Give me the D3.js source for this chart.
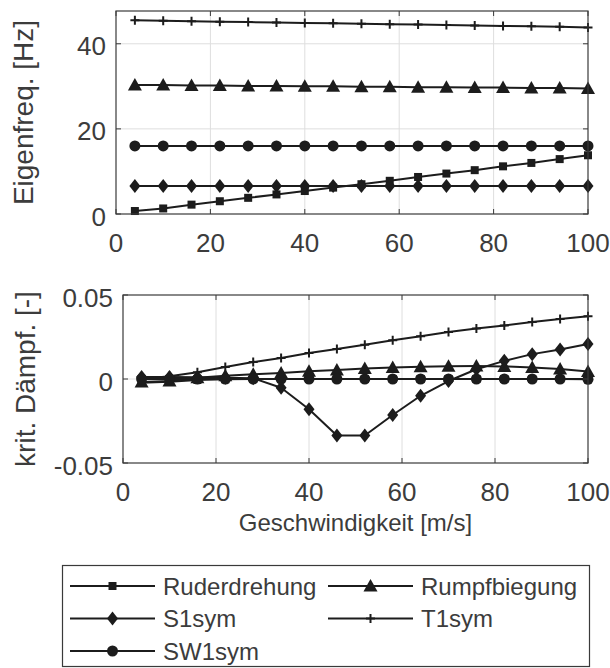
<!DOCTYPE html>
<html>
<head>
<meta charset="utf-8">
<script src="https://cdn.jsdelivr.net/npm/d3@7"></script>
<style>
  html, body { margin: 0; padding: 0; background: #fff; }
  svg { display: block; font-family: "Liberation Sans", Arial, Helvetica, sans-serif; }
</style>
</head>
<body>
<svg id="chart" width="610" height="668"></svg>
<script>
// Flight speed [m/s] at which each mode was evaluated
const speeds = [4, 10, 16, 22, 28, 34, 40, 46, 52, 58, 64, 70, 76, 82, 88, 94, 100];

// Eigenfrequencies [Hz]
const freqRuderdrehung = [0.7, 1.3, 2.2, 3.0, 3.8, 4.6, 5.4, 6.2, 7.0, 7.8, 8.7, 9.5, 10.3, 11.2, 12.0, 12.9, 13.8];
const freqRumpfbiegung = [30.3, 30.3, 30.2, 30.2, 30.1, 30.1, 30.0, 30.0, 29.9, 29.9, 29.8, 29.8, 29.7, 29.7, 29.6, 29.6, 29.5];
const freqS1sym = [6.6, 6.6, 6.6, 6.6, 6.6, 6.6, 6.6, 6.6, 6.6, 6.6, 6.6, 6.6, 6.6, 6.6, 6.6, 6.6, 6.6];
const freqT1sym = [45.5, 45.4, 45.3, 45.2, 45.1, 45.0, 44.9, 44.8, 44.7, 44.6, 44.5, 44.4, 44.3, 44.2, 44.1, 44.0, 43.8];
const freqSW1sym = [16.0, 16.0, 16.0, 16.0, 16.0, 16.0, 16.0, 16.0, 16.0, 16.0, 16.0, 16.0, 16.0, 16.0, 16.0, 16.0, 16.0];

// Critical damping ratios [-]
const dampRuderdrehung = [-0.0022, -0.0016, -0.0006, -0.0002, 0.0, 0.0, 0.0, 0.0, 0.0, 0.0, 0.0, 0.0, 0.0, 0.0, 0.0, 0.0, 0.0];
const dampRumpfbiegung = [-0.0018, -0.0012, 0.0008, 0.0020, 0.0028, 0.0036, 0.0046, 0.0054, 0.0062, 0.0068, 0.0073, 0.0076, 0.0077, 0.0075, 0.0069, 0.0060, 0.0044];
const dampS1sym = [0.0012, 0.0012, 0.0010, 0.0008, 0.0005, -0.0052, -0.0180, -0.0336, -0.0336, -0.0214, -0.0100, -0.0012, 0.0058, 0.0108, 0.0148, 0.0176, 0.0208];
const dampT1sym = [0.0, 0.0016, 0.0040, 0.0071, 0.0101, 0.0125, 0.0155, 0.0179, 0.0204, 0.0230, 0.0254, 0.0280, 0.0300, 0.0319, 0.0339, 0.0357, 0.0373];
const dampSW1sym = [0.0, 0.0, 0.0, 0.0, 0.0, 0.0, 0.0, 0.0, 0.0, 0.0, 0.0, 0.0, 0.0, 0.0, 0.0, 0.0, -0.0002];

// Mode names (legend order) and their marker shapes
const modeNames = ["Ruderdrehung", "Rumpfbiegung", "S1sym", "T1sym", "SW1sym"];
const modeMarkers = ["square", "triangle", "diamond", "plus", "circle"];

// Axis ticks
const xTicks = [0, 20, 40, 60, 80, 100];
const freqTicks = [0, 20, 40];
const dampTicks = [-0.05, 0, 0.05];
const dampTickLabels = ["-0.05", "0", "0.05"];

const freqSeries = [freqRuderdrehung, freqRumpfbiegung, freqS1sym, freqT1sym, freqSW1sym];
const dampSeries = [dampRuderdrehung, dampRumpfbiegung, dampS1sym, dampT1sym, dampSW1sym];

const INK = "#1c1c1c";
const AXIS = "#3a3a3a";
const TEXT = "#3c3c3c";
const GRID = "#dedede";
const TICK_FONT = 26;
const YLABEL_FONT = 28;
const XLABEL_FONT = 24;
const LEGEND_FONT = 24;

const svg = d3.select("#chart");

function drawMarker(g, shape, cx, cy) {
  if (shape === "square") {
    g.append("rect").attr("x", cx - 4).attr("y", cy - 4).attr("width", 8).attr("height", 8).attr("fill", INK);
  } else if (shape === "triangle") {
    g.append("path").attr("d", `M${cx},${cy - 7}L${cx + 7},${cy + 5.5}L${cx - 7},${cy + 5.5}Z`).attr("fill", INK);
  } else if (shape === "diamond") {
    g.append("path").attr("d", `M${cx},${cy - 7}L${cx + 5.5},${cy}L${cx},${cy + 7}L${cx - 5.5},${cy}Z`).attr("fill", INK);
  } else if (shape === "circle") {
    g.append("circle").attr("cx", cx).attr("cy", cy).attr("r", 5.5).attr("fill", INK);
  } else if (shape === "plus") {
    g.append("path").attr("d", `M${cx - 4.5},${cy}H${cx + 4.5}M${cx},${cy - 4.5}V${cy + 4.5}`)
      .attr("stroke", INK).attr("stroke-width", 2).attr("fill", "none");
  }
}

function panel(opts) {
  const { left, right, top, bottom, yDomain, yTicks, yTickLabels, series, yLabel, yLabelX } = opts;
  const x = d3.scaleLinear().domain([0, 100]).range([left, right]);
  const y = d3.scaleLinear().domain(yDomain).range([bottom, top]);
  const g = svg.append("g");

  // grid
  g.append("g").selectAll("line").data(xTicks.filter(t => t > 0 && t < 100)).join("line")
    .attr("x1", d => x(d)).attr("x2", d => x(d)).attr("y1", top).attr("y2", bottom)
    .attr("stroke", GRID).attr("stroke-width", 1);
  g.append("g").selectAll("line").data(yTicks.filter(t => y(t) > top + 1 && y(t) < bottom - 1)).join("line")
    .attr("x1", left).attr("x2", right).attr("y1", d => y(d)).attr("y2", d => y(d))
    .attr("stroke", GRID).attr("stroke-width", 1);

  // series
  const line = d3.line().x((d, i) => x(speeds[i])).y(d => y(d));
  series.forEach((vals, k) => {
    const sg = g.append("g");
    sg.append("path").datum(vals).attr("d", line).attr("fill", "none")
      .attr("stroke", INK).attr("stroke-width", 2).attr("stroke-linejoin", "round");
    vals.forEach((v, i) => drawMarker(sg, modeMarkers[k], x(speeds[i]), y(v)));
  });

  // box and ticks
  g.append("rect").attr("x", left).attr("y", top).attr("width", right - left).attr("height", bottom - top)
    .attr("fill", "none").attr("stroke", AXIS).attr("stroke-width", 1.2);
  const tl = 5;
  xTicks.forEach(t => {
    g.append("line").attr("x1", x(t)).attr("x2", x(t)).attr("y1", bottom).attr("y2", bottom - tl).attr("stroke", AXIS);
    g.append("line").attr("x1", x(t)).attr("x2", x(t)).attr("y1", top).attr("y2", top + tl).attr("stroke", AXIS);
  });
  yTicks.forEach(t => {
    g.append("line").attr("x1", left).attr("x2", left + tl).attr("y1", y(t)).attr("y2", y(t)).attr("stroke", AXIS);
    g.append("line").attr("x1", right).attr("x2", right - tl).attr("y1", y(t)).attr("y2", y(t)).attr("stroke", AXIS);
  });

  // tick labels
  g.append("g").selectAll("text").data(xTicks).join("text")
    .attr("x", d => x(d)).attr("y", bottom + 38)
    .attr("text-anchor", "middle").attr("font-size", TICK_FONT).attr("fill", TEXT)
    .text(d => d);
  g.append("g").selectAll("text").data(yTicks).join("text")
    .attr("x", left - 10).attr("y", d => y(d) + 11.5)
    .attr("text-anchor", "end").attr("font-size", TICK_FONT).attr("fill", TEXT)
    .text((d, i) => yTickLabels ? yTickLabels[i] : d);

  // y label
  g.append("text")
    .attr("transform", `translate(${yLabelX},${(top + bottom) / 2}) rotate(-90)`)
    .attr("text-anchor", "middle").attr("font-size", YLABEL_FONT).attr("fill", TEXT)
    .text(yLabel);

  return { x, y };
}

panel({
  left: 116, right: 588, top: 11, bottom: 214,
  yDomain: [0, 47.7], yTicks: freqTicks, series: freqSeries,
  yLabel: "Eigenfreq. [Hz]", yLabelX: 32.5
});

panel({
  left: 123, right: 588, top: 295, bottom: 463,
  yDomain: [-0.05, 0.05], yTicks: dampTicks, yTickLabels: dampTickLabels, series: dampSeries,
  yLabel: "krit. Dämpf. [-]", yLabelX: 35
});

// x label under the damping panel
svg.append("text")
  .attr("x", (123 + 588) / 2).attr("y", 531)
  .attr("text-anchor", "middle").attr("font-size", XLABEL_FONT).attr("fill", TEXT)
  .text("Geschwindigkeit [m/s]");

// legend: two columns, filled row by row
const legend = svg.append("g");
legend.append("rect").attr("x", 62.5).attr("y", 565.5).attr("width", 527).attr("height", 101)
  .attr("fill", "#fff").attr("stroke", AXIS).attr("stroke-width", 1.2);
const colX = [70, 328];
const rowY = [586, 618.5, 651];
modeNames.forEach((name, k) => {
  const cx0 = colX[k % 2];
  const cy = rowY[Math.floor(k / 2)];
  const ig = legend.append("g");
  ig.append("line").attr("x1", cx0).attr("x2", cx0 + 85).attr("y1", cy).attr("y2", cy)
    .attr("stroke", INK).attr("stroke-width", 2);
  drawMarker(ig, modeMarkers[k], cx0 + 42.5, cy);
  ig.append("text").attr("x", cx0 + 93).attr("y", cy + 8.5)
    .attr("font-size", LEGEND_FONT).attr("fill", TEXT).text(name);
});
</script>
</body>
</html>
